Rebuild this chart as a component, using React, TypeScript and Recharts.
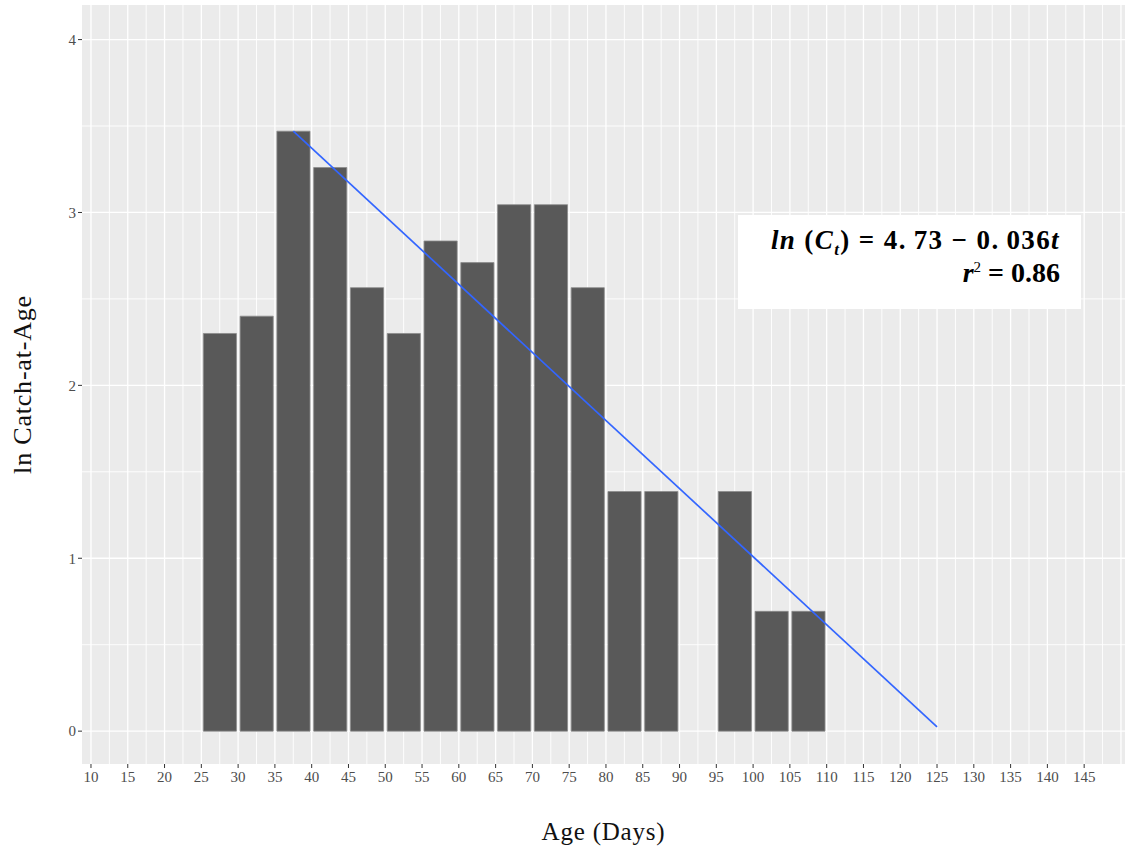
import {
  ComposedChart,
  Bar,
  Line,
  XAxis,
  YAxis,
  CartesianGrid,
  Label,
} from "recharts";

// age-class midpoints (days) and ln(catch) for each class
const ages = [27.5, 32.5, 37.5, 42.5, 47.5, 52.5, 57.5, 62.5, 67.5, 72.5, 77.5, 82.5, 87.5, 97.5, 102.5, 107.5];
const lnCatch = [2.3, 2.4, 3.47, 3.26, 2.565, 2.3, 2.835, 2.71, 3.045, 3.045, 2.565, 1.386, 1.386, 1.386, 0.693, 0.693];

// fitted regression line
const fitAges = [37.5, 125];
const fitValues = [3.47, 0.025];

const xTicks = [10, 15, 20, 25, 30, 35, 40, 45, 50, 55, 60, 65, 70, 75, 80, 85, 90, 95, 100, 105, 110, 115, 120, 125, 130, 135, 140, 145];
const xMajorGrid = [10, 15, 20, 25, 30, 35, 40, 45, 50, 55, 60, 65, 70, 75, 80, 85, 90, 95, 100, 105, 110, 115, 120, 125, 130, 135, 140, 145, 150];
const xMinorGrid = [12.5, 17.5, 22.5, 27.5, 32.5, 37.5, 42.5, 47.5, 52.5, 57.5, 62.5, 67.5, 72.5, 77.5, 82.5, 87.5, 92.5, 97.5, 102.5, 107.5, 112.5, 117.5, 122.5, 127.5, 132.5, 137.5, 142.5, 147.5];
const yTicks = [0, 1, 2, 3, 4];
const yMinorGrid = [0.5, 1.5, 2.5, 3.5];

const barData = ages.map((age, i) => ({ age, lnCatch: lnCatch[i] }));
const fitData = fitAges.map((age, i) => ({ age, fit: fitValues[i] }));

const W = 1125;
const H = 851;
const Y_AXIS_W = 82;
const X_MIN = 8.78;
const X_MAX = 150.55;
const PLOT_W = W - Y_AXIS_W;
const BAR_WIDTH_DAYS = 4.5;

const FONT = "'Liberation Serif', 'Times New Roman', serif";
const tickStyle = { fontSize: 15, fill: "#4D4D4D", fontFamily: FONT };

function YTitle({ viewBox }: any) {
  const cx = 22;
  const cy = viewBox.y + viewBox.height / 2;
  return (
    <text
      x={cx}
      y={cy}
      transform={`rotate(-90, ${cx}, ${cy})`}
      textAnchor="middle"
      dominantBaseline="central"
      fontFamily={FONT}
      fontSize={26}
      letterSpacing={0.8}
      fill="#111"
    >
      ln Catch-at-Age
    </text>
  );
}

function XTitle({ viewBox }: any) {
  return (
    <text
      x={viewBox.x + viewBox.width / 2}
      y={840}
      textAnchor="middle"
      fontFamily={FONT}
      fontSize={25}
      letterSpacing={0.8}
      fill="#111"
    >
      Age (Days)
    </text>
  );
}

export default function App() {
  const barSize = (BAR_WIDTH_DAYS * PLOT_W) / (X_MAX - X_MIN);
  return (
    <div style={{ position: "absolute", left: 0, top: 0, width: W, height: H, background: "#fff" }}>
      <ComposedChart width={W} height={H} data={barData} margin={{ top: 5, right: 0, left: 0, bottom: 47 }}>
        <CartesianGrid
          fill="#EBEBEB"
          stroke="#fff"
          strokeWidth={0.9}
          verticalValues={xMinorGrid}
          horizontalValues={yMinorGrid}
        />
        <CartesianGrid
          fill="none"
          stroke="#fff"
          strokeWidth={1.3}
          verticalValues={xMajorGrid}
          horizontalValues={yTicks}
        />
        <XAxis
          dataKey="age"
          type="number"
          domain={[X_MIN, X_MAX]}
          allowDataOverflow
          ticks={xTicks}
          interval={0}
          axisLine={false}
          tickLine={{ stroke: "#333", strokeWidth: 1 }}
          tickSize={4}
          tickMargin={3}
          tick={tickStyle}
          height={40}
        >
          <Label content={<XTitle />} />
        </XAxis>
        <YAxis
          type="number"
          domain={[-0.19, 4.2]}
          allowDataOverflow
          ticks={yTicks}
          interval={0}
          axisLine={false}
          tickLine={{ stroke: "#333", strokeWidth: 1 }}
          tickSize={4}
          tickMargin={2}
          tick={tickStyle}
          width={Y_AXIS_W}
        >
          <Label content={<YTitle />} />
        </YAxis>
        <Bar
          dataKey="lnCatch"
          fill="#595959"
          stroke="#8C8C8C"
          strokeWidth={0.8}
          barSize={barSize}
          isAnimationActive={false}
        />
        <Line
          data={fitData}
          dataKey="fit"
          stroke="#3366FF"
          strokeWidth={1.7}
          dot={false}
          activeDot={false}
          isAnimationActive={false}
        />
      </ComposedChart>
      <div
        style={{
          position: "absolute",
          left: 738,
          top: 215,
          width: 343,
          height: 94,
          background: "#fff",
          boxSizing: "border-box",
          paddingRight: 21,
          paddingTop: 9,
          textAlign: "right",
          fontFamily: FONT,
          fontWeight: "bold",
          color: "#000",
        }}
      >
        <div style={{ fontSize: 27, lineHeight: "33px", whiteSpace: "nowrap", letterSpacing: 1.4 }}>
          <i>ln</i> (<i>C</i><sub style={{ fontSize: 17, fontStyle: "italic", lineHeight: 0 }}>t</sub>) = 4.&#8201;73 − 0.&#8201;036<i>t</i>
        </div>
        <div style={{ fontSize: 28, lineHeight: "32px" }}>
          <i>r</i><sup style={{ fontSize: 15, fontWeight: "normal", lineHeight: 0 }}>2</sup> = 0.86
        </div>
      </div>
    </div>
  );
}
